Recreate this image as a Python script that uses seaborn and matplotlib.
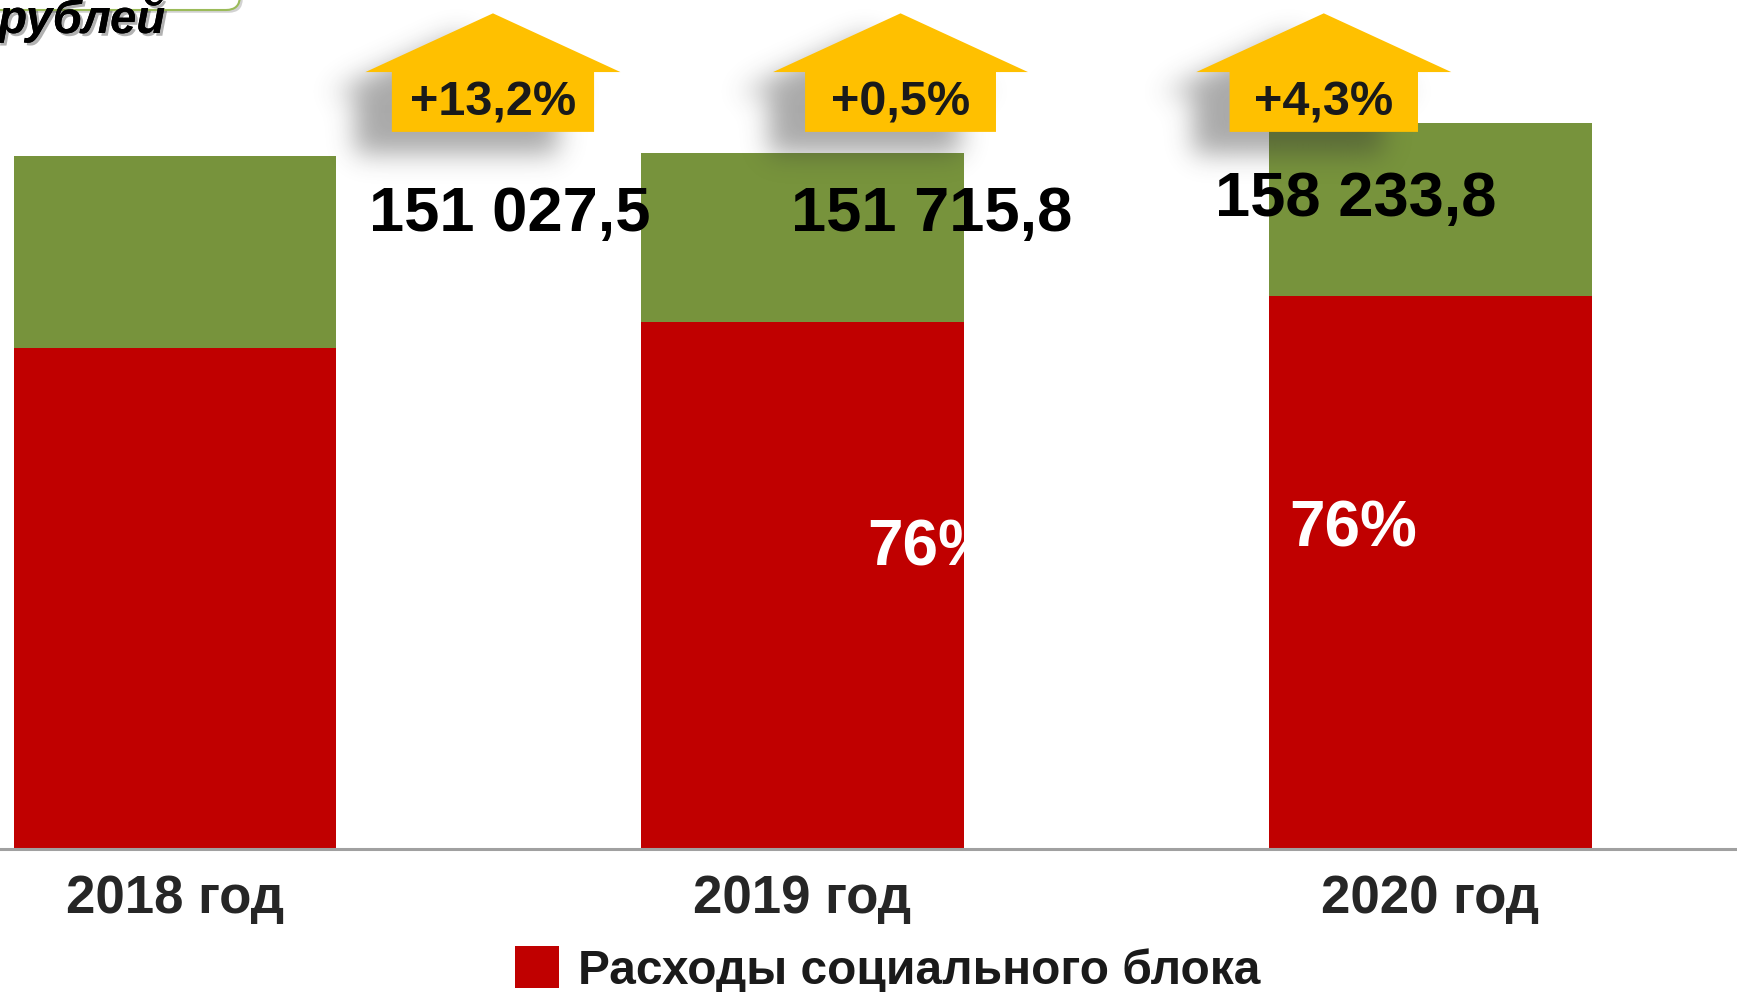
import numpy as np
import matplotlib
matplotlib.use("Agg")
import matplotlib.pyplot as plt
import matplotlib.patheffects as pe
import seaborn as sns
from matplotlib.path import Path
from matplotlib.patches import Polygon, FancyBboxPatch
from matplotlib.transforms import IdentityTransform

# ---------------- data ----------------
years = ["2018 год", "2019 год", "2020 год"]
total = [151027.5, 151715.8, 158233.8]          # всего расходов, млн руб.
social = [109200.0, 114850.0, 120570.0]         # расходы социального блока (оценка)
growth_labels = ["+13,2%", "+0,5%", "+4,3%"]
share_labels = ["", "76%", "76%"]
legend_label = "Расходы социального блока"
unit_text = "рублей"

# ---------------- layout / style ----------------
GREEN = "#77933C"
RED = "#C00000"
YELLOW = "#FFC000"
BAR_W = 0.513
value_dx = [0.533, 0.205, -0.119]
value_y = [138300, 138300, 141500]
arrow_dx = [0.507, 0.156, -0.170]
body_half = [0.161, 0.152, 0.150]
share_dx = [0.0, 0.204, -0.124]
share_y = [0, 65500, 69600]
ARROW_TOP, ARROW_WING, ARROW_BOT = 182210, 169400, 156350
WING_HALF = 0.203

sns.set_style("white")
plt.rcParams["font.family"] = ["Liberation Sans", "DejaVu Sans"]

fig = plt.figure(figsize=(17.37, 9.92), dpi=100)
ax = fig.add_axes([0.0, 0.1445, 1.0, 0.8555])

sns.barplot(x=years, y=total, color=GREEN, saturation=1, width=BAR_W,
            errorbar=None, linewidth=0, ax=ax, zorder=2)
sns.barplot(x=years, y=social, color=RED, saturation=1, width=BAR_W,
            errorbar=None, linewidth=0, ax=ax, zorder=2, label=legend_label)

XL = (-0.278, 2.488)
YL = (0, 185120)
ax.set_xlim(*XL)
ax.set_ylim(*YL)

# axes styling
for s in ["left", "right", "top"]:
    ax.spines[s].set_visible(False)
ax.spines["bottom"].set_color("#A0A0A0")
ax.spines["bottom"].set_linewidth(2.2)
ax.set_yticks([])
ax.set_xlabel("")
ax.set_ylabel("")
ax.set_xticks([0, 1, 2], years)
ax.set_xticks([0.5, 1.5], minor=True)
ax.tick_params(axis="x", which="major", length=0, pad=18, labelsize=38,
               labelcolor="#262626")
for t in ax.get_xticklabels():
    t.set_fontweight("bold")
ax.tick_params(axis="x", which="minor", length=8, width=1.2, color="#A0A0A0",
               direction="out")


def add_shadow(ax, verts, off=(-36, 22), sigma=13, alpha=0.42):
    disp = ax.transData.transform(verts)
    disp[:, 0] += off[0]
    disp[:, 1] -= off[1]
    pad = 4 * sigma
    x0, y0 = disp.min(0) - pad
    x1, y1 = disp.max(0) + pad
    nx, ny = int(x1 - x0), int(y1 - y0)
    xs = x0 + np.arange(nx) + 0.5
    ys = y0 + np.arange(ny) + 0.5
    X, Y = np.meshgrid(xs, ys)
    m = Path(disp).contains_points(np.c_[X.ravel(), Y.ravel()]).reshape(ny, nx).astype(float)
    k = np.arange(-3 * sigma, 3 * sigma + 1)
    g = np.exp(-k ** 2 / (2.0 * sigma ** 2))
    g /= g.sum()
    m = np.apply_along_axis(lambda r: np.convolve(r, g, mode="same"), 1, m)
    m = np.apply_along_axis(lambda c: np.convolve(c, g, mode="same"), 0, m)
    rgba = np.zeros((ny, nx, 4))
    rgba[..., :3] = 0.2
    rgba[..., 3] = m * alpha
    inv = ax.transData.inverted()
    dx0, dy0 = inv.transform((x0, y0))
    dx1, dy1 = inv.transform((x0 + nx, y0 + ny))
    ax.imshow(rgba, extent=(dx0, dx1, dy0, dy1), origin="lower",
              aspect="auto", zorder=3, interpolation="bilinear")


red_bars = ax.containers[1].patches if len(ax.containers) > 1 else []

for i in range(len(years)):
    cx = i + arrow_dx[i]
    bh = body_half[i]
    verts = np.array([
        (cx, ARROW_TOP), (cx + WING_HALF, ARROW_WING), (cx + bh, ARROW_WING),
        (cx + bh, ARROW_BOT), (cx - bh, ARROW_BOT),
        (cx - bh, ARROW_WING), (cx - WING_HALF, ARROW_WING)])
    add_shadow(ax, verts)
    ax.add_patch(Polygon(verts, closed=True, facecolor=YELLOW, edgecolor="none",
                         zorder=4, clip_on=False))
    ax.text(cx, (ARROW_WING + ARROW_BOT) / 2 - 200, growth_labels[i],
            ha="center", va="center", fontsize=35, fontweight="bold",
            color="#1A1A1A", zorder=5)
    lbl = f"{total[i]:,.1f}".replace(",", " ").replace(".", ",")
    ax.text(i + value_dx[i], value_y[i], lbl, ha="center", va="center",
            fontsize=45.5, fontweight="bold", color="black", zorder=6)
    if share_labels[i]:
        t = ax.text(i + share_dx[i], share_y[i], share_labels[i], ha="center",
                    va="center", fontsize=46, fontweight="bold", color="white",
                    zorder=6)
        if red_bars:
            t.set_clip_path(red_bars[i])

ax.set_xlim(*XL)
ax.set_ylim(*YL)

# legend
leg = ax.legend(loc="upper left", bbox_to_anchor=(0.2965, 0.046),
                bbox_transform=fig.transFigure, frameon=False, fontsize=34.5,
                handlelength=0.92, handleheight=0.97, handletextpad=0.4,
                borderpad=0, borderaxespad=0)
for t in leg.get_texts():
    t.set_fontweight("bold")
    t.set_color("#1A1A1A")

# header box + unit text (cropped slide header)
H = 992
box = FancyBboxPatch((-60, H - 10), 300, 120, boxstyle="round,pad=0,rounding_size=14",
                     transform=IdentityTransform(), facecolor="white",
                     edgecolor="#9BBB59", linewidth=1.5, zorder=1,
                     path_effects=[pe.withSimplePatchShadow(offset=(2, -2), alpha=0.25)])
fig.patches.append(box)
fig.text(-0.001, 1 - 33 / H, unit_text, ha="left", va="baseline", fontsize=34,
         fontweight="bold", fontstyle="italic", color="black",
         path_effects=[pe.withSimplePatchShadow(offset=(2, -2), shadow_rgbFace="#000000",
                                                alpha=0.3), pe.Normal()])

fig.savefig("out.png", dpi=100)
